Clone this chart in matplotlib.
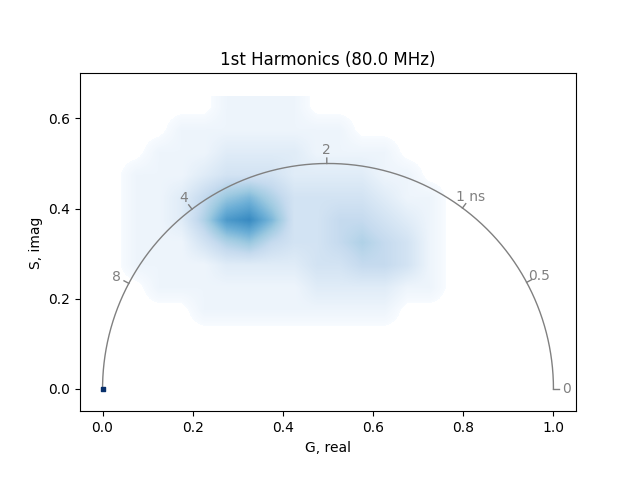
import numpy as np
import matplotlib
matplotlib.use("Agg")
import matplotlib.pyplot as plt

# histogram density (rows top->bottom, y centers 0.625..0.125,
# x centers -0.025..0.775)
x_edges = [-0.05, 0.80]
y_edges = [0.10, 0.65]
density = np.array([
    [0,0,0,0,0,0,1,1,1,1,0,0,0,0,0,0,0],
    [0,0,0,0,1,1,1,1,1,1,1,1,0,0,0,0,0],
    [0,0,0,1,1,1,2,2,2,2,1,1,1,1,0,0,0],
    [0,0,1,1,1,2,3,3,3,2,2,2,2,1,1,0,0],
    [0,0,1,1,2,4,6,7,5,3,3,3,3,2,1,1,0],
    [0,0,1,1,2,5,9,10,7,3,3,4,4,3,2,1,0],
    [0,0,1,1,1,3,5,6,4,3,3,4,5,4,3,1,0],
    [0,0,1,1,1,1,2,2,2,2,3,3,4,4,3,1,0],
    [0,0,0,1,1,1,1,1,1,1,2,2,2,2,1,1,0],
    [0,0,0,0,0,1,1,1,1,1,1,1,1,1,0,0,0],
    [0,0,0,0,0,0,0,0,0,0,0,0,0,0,0,0,0],
], dtype=float)
lifetimes = [0, 0.5, 1, 2, 4, 8]
lifetime_labels = ['0', '0.5', '1 ns', '2', '4', '8']
frequency = 80.0  # MHz

fig, ax = plt.subplots(figsize=(6.4, 4.8), dpi=100)
cmap = plt.get_cmap('Blues').copy()
cmap.set_under('white')
ax.imshow(density, extent=[x_edges[0], x_edges[1], y_edges[0], y_edges[1]],
          cmap=cmap, vmin=0.3, vmax=15, interpolation='bilinear')
ax.scatter([0], [0], marker='s', s=6, color='#08306b', zorder=3)

# universal semicircle
t = np.linspace(0, np.pi, 300)
ax.plot(0.5 + 0.5*np.cos(t), 0.5*np.sin(t), color='grey', lw=1)
omega = 2*np.pi*frequency*1e-3
for tau, lab in zip(lifetimes, lifetime_labels):
    wt = omega*tau
    g = 1/(1 + wt**2)
    s = wt/(1 + wt**2)
    dx, dy = g - 0.5, s
    n = np.hypot(dx, dy)
    dx, dy = dx/n, dy/n
    ax.plot([g, g + 0.012*dx], [s, s + 0.012*dy], color='grey', lw=1)
    ax.text(g + 0.03*dx, s + 0.03*dy, lab, color='grey', ha='center', va='center')

ax.set_aspect('equal')
ax.set_xlim(-0.05, 1.05)
ax.set_ylim(-0.05, 0.7)
ax.set_yticks([0, 0.2, 0.4, 0.6])
ax.set_xlabel('G, real')
ax.set_ylabel('S, imag')
ax.set_title('1st Harmonics (80.0 MHz)')
plt.savefig('out.png')
